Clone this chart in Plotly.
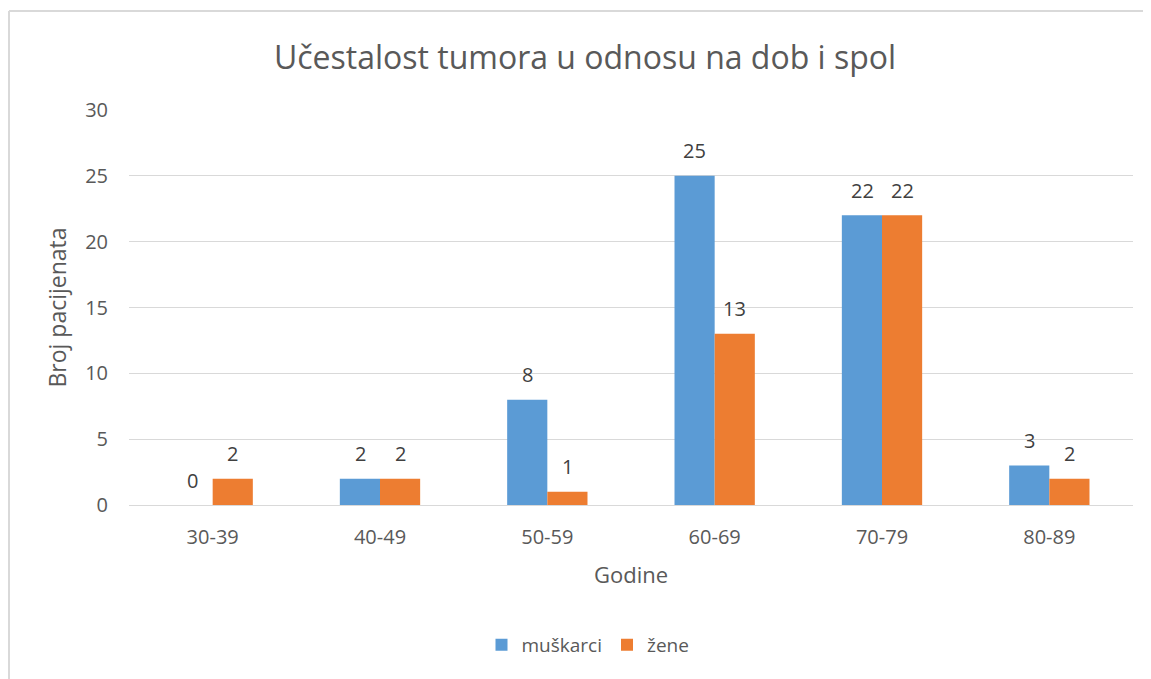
import plotly.graph_objects as go

categories = ["30-39", "40-49", "50-59", "60-69", "70-79", "80-89"]
muskarci = [0, 2, 8, 25, 22, 3]
zene = [2, 2, 1, 13, 22, 2]
y_ticks = [0, 5, 10, 15, 20, 25, 30]

FONT = "Open Sans"
W, H = 1143, 671
L, T, PW, PH = 121, 102, 1004, 395
fig = go.Figure()
fig.add_trace(go.Bar(x=categories, y=muskarci, name="muškarci", marker_color="#5B9BD5",
                     marker_line_width=0))
fig.add_trace(go.Bar(x=categories, y=zene, name="žene", marker_color="#ED7D31",
                     marker_line_width=0))

annotations = []
for series, shift in ((muskarci, -20), (zene, 20)):
    for c, v in zip(categories, series):
        annotations.append(dict(x=c, y=v, xref="x", yref="y", text=str(v), showarrow=False,
                                xshift=shift, yshift=25, yanchor="middle",
                                font=dict(size=20, color="#404040", family=FONT)))

fig.update_layout(
    width=W, height=H,
    margin=dict(l=L, r=W - L - PW, t=T, b=H - T - PH),
    paper_bgcolor="white", plot_bgcolor="white",
    font=dict(family=FONT, color="#595959", size=20),
    title=dict(text="Učestalost tumora u odnosu na dob i spol", x=577 / W, xanchor="center",
               y=1 - 50 / H, yanchor="middle", font=dict(size=32, color="#595959", family=FONT)),
    barmode="group", bargap=0.52, bargroupgap=0,
    legend=dict(orientation="h", x=(580 - L) / PW, xanchor="center", y=-(637 - (T + PH)) / PH,
                yanchor="middle", font=dict(size=19, color="#595959"), traceorder="normal",
                itemwidth=30),
    xaxis=dict(title=dict(text="Godine", font=dict(size=22, color="#595959"), standoff=18),
               showline=True, linecolor="#D9D9D9", linewidth=1, ticks="", showgrid=False,
               tickfont=dict(size=20, color="#595959"), ticklabelstandoff=14),
    yaxis=dict(title=dict(text="Broj pacijenata", font=dict(size=23, color="#595959"), standoff=12),
               range=[0, 30], tickvals=y_ticks, showgrid=True, gridcolor="#D9D9D9", gridwidth=1,
               zeroline=False, ticks="", tickfont=dict(size=20, color="#595959"), ticklabelstandoff=20),
    annotations=annotations,
    shapes=[
        dict(type="line", xref="paper", yref="paper",
             x0=-(L - 1) / PW, x1=1.5, y0=1 + (T - 3) / PH, y1=1 + (T - 3) / PH,
             line=dict(color="#D9D9D9", width=2), layer="below"),
        dict(type="line", xref="paper", yref="paper",
             x0=-(L - 1) / PW, x1=-(L - 1) / PW, y0=-1, y1=1 + (T - 3) / PH,
             line=dict(color="#D9D9D9", width=2), layer="below"),
    ],
)
fig.write_html("out.html")
